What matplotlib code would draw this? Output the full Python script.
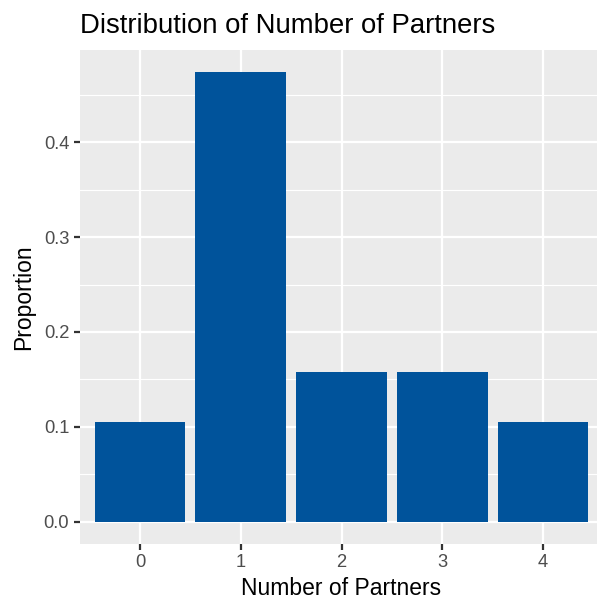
import matplotlib
matplotlib.use("Agg")
import matplotlib.pyplot as plt
from matplotlib.ticker import MultipleLocator

# data
partners = [0, 1, 2, 3, 4]
proportion = [2 / 19, 9 / 19, 3 / 19, 3 / 19, 2 / 19]
y_ticks = [0.0, 0.1, 0.2, 0.3, 0.4]

plt.rcParams['font.family'] = ['Liberation Sans', 'DejaVu Sans']

W, H, DPI = 597, 598, 150
fig = plt.figure(figsize=(W / DPI, H / DPI), dpi=DPI)
fig.patch.set_facecolor('white')

# panel placed in pixels (right side runs past the image edge, as in reference)
left, right, top, bottom = 79.5, 603.5, 50, 544
ax = fig.add_axes([left / W, 1 - bottom / H, (right - left) / W, (bottom - top) / H])
ax.set_facecolor('#EBEBEB')

ax.bar(partners, proportion, width=0.9, color='#00539B', zorder=3)

ymax = max(proportion)
pad = ymax * 0.05
ax.set_xlim(-0.6, 4.6)
ax.set_ylim(-pad, ymax + pad)

ax.set_xticks(partners)
ax.set_xticklabels([str(p) for p in partners])
ax.set_yticks(y_ticks)
ax.set_yticklabels(['%.1f' % v for v in y_ticks])
ax.yaxis.set_minor_locator(MultipleLocator(0.05))
ax.xaxis.set_minor_locator(plt.NullLocator())

ax.grid(which='major', color='white', linewidth=1.07, zorder=0)
ax.grid(which='minor', axis='y', color='white', linewidth=0.53, zorder=0)
ax.set_axisbelow(True)

for s in ax.spines.values():
    s.set_visible(False)

ax.tick_params(axis='both', which='major', length=2.75, width=1.07, color='#333333',
               labelsize=8.8, labelcolor='#4D4D4D', pad=2.2)
ax.tick_params(axis='y', which='minor', length=0)

ax.set_xlabel('Number of Partners', fontsize=11, color='black', labelpad=2.5)
ax.set_ylabel('Proportion', fontsize=11, color='black', labelpad=4)

fig.text(left / W, 1 - 33 / H, 'Distribution of Number of Partners', fontsize=13.2,
         color='black', ha='left', va='baseline')

fig.savefig('out.png', dpi=DPI)
